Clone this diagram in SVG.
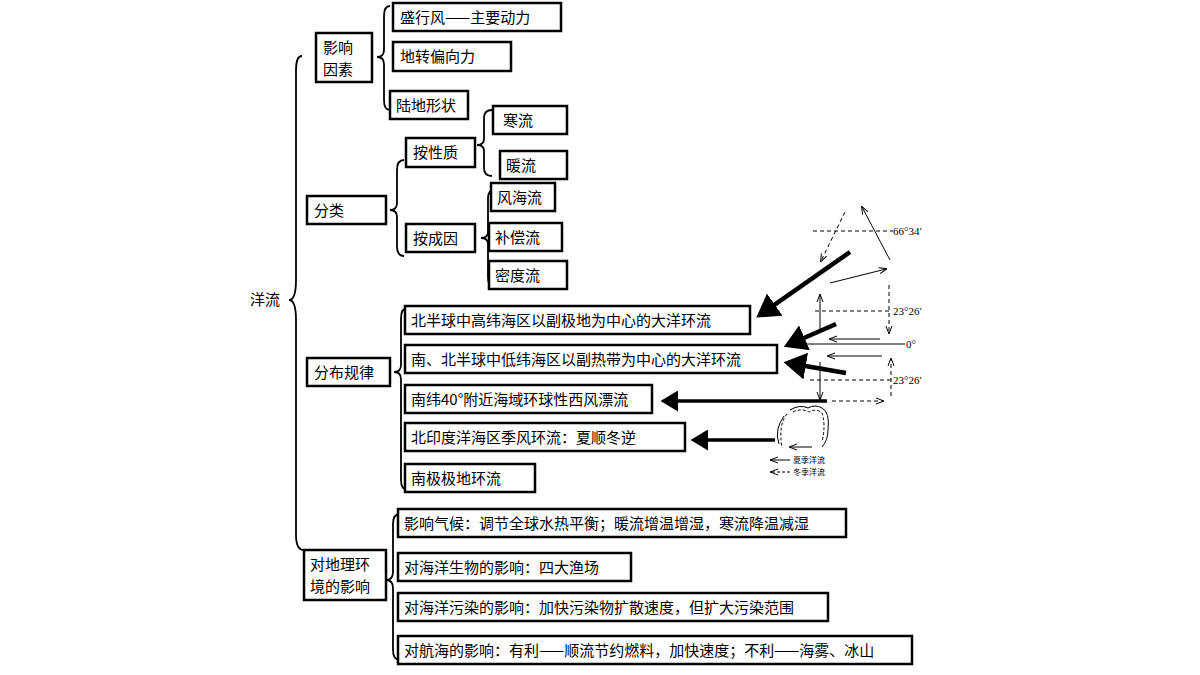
<svg xmlns="http://www.w3.org/2000/svg" width="1200" height="675" viewBox="0 0 1200 675">
<style>
text{font-family:"Noto Sans CJK SC","Liberation Serif",serif;font-size:15px;fill:#000}
.b rect{fill:#fff;stroke:#000;stroke-width:2.5}
.br{fill:none;stroke:#000;stroke-width:1.8}
.s{font-family:"Liberation Serif",serif;font-size:11px}
.t{font-size:8px}
</style>
<defs>
<marker id="big" markerWidth="6" markerHeight="6" refX="4" refY="3" orient="auto" markerUnits="strokeWidth"><path d="M0,0L5,3L0,6z" fill="#000"/></marker>
<marker id="sm" markerWidth="8" markerHeight="8" refX="7" refY="4" orient="auto" markerUnits="userSpaceOnUse"><path d="M0,1L8,4L0,7" fill="none" stroke="#000" stroke-width="1"/></marker>
</defs>
<rect width="1200" height="675" fill="#fff"/>
<text x="250" y="305">洋流</text>
<g id="braces">
<path class="br" d="M302,56 Q296,56 296,70 L296,280 Q296,300 289,300 Q296,300 296,320 L296,535 Q296,550 304,550"/>
<path class="br" d="M390,6 Q384,6 384,16 L384,50 Q384,57 377,57 Q384,57 384,64 L384,100 Q384,110 390,110"/>
<path class="br" d="M404,160 Q397,160 397,170 L397,203 Q397,210 390,210 Q397,210 397,217 L397,246 Q397,256 404,256"/>
<path class="br" d="M492,110 Q484,110 484,118 L484,139 Q484,145 477,145 Q484,145 484,151 L484,168 Q484,176 492,176"/>
<path class="br" d="M495,190 Q488,190 488,198 L488,232 Q488,238 481,238 Q488,238 488,244 L488,278 Q488,286 495,286"/>
<path class="br" d="M408,308 Q401,308 401,318 L401,365 Q401,372 394,372 Q401,372 401,379 L401,480 Q401,490 408,490"/>
<path class="br" d="M400,514 Q393,514 393,524 L393,572 Q393,580 386,580 Q393,580 393,588 L393,650 Q393,660 400,660"/>
</g>
<g class="b">
<g id="n1"><rect x="316" y="33" width="56" height="49"/><text x="323" y="53">影响</text><text x="323" y="75">因素</text></g>
<g id="n2"><rect x="393" y="3" width="168" height="28"/><text x="400" y="23">盛行风——主要动力</text></g>
<g id="n3"><rect x="393" y="42" width="118" height="29"/><text x="400" y="62">地转偏向力</text></g>
<g id="n4"><rect x="390" y="91" width="78" height="28"/><text x="396" y="111">陆地形状</text></g>
<g id="n5"><rect x="406" y="138" width="69" height="29"/><text x="413" y="158">按性质</text></g>
<g id="n6"><rect x="493" y="106" width="74" height="28"/><text x="503" y="126">寒流</text></g>
<g id="n7"><rect x="500" y="151" width="67" height="28"/><text x="506" y="171">暖流</text></g>
<g id="n8"><rect x="307" y="196" width="79" height="28"/><text x="314" y="216">分类</text></g>
<g id="n9"><rect x="406" y="224" width="69" height="28"/><text x="413" y="244">按成因</text></g>
<g id="n10"><rect x="491" y="183" width="64" height="28"/><text x="497" y="203">风海流</text></g>
<g id="n11"><rect x="489" y="223" width="73" height="28"/><text x="495" y="243">补偿流</text></g>
<g id="n12"><rect x="489" y="261" width="78" height="28"/><text x="495" y="281">密度流</text></g>
<g id="n13"><rect x="307" y="358" width="83" height="28"/><text x="314" y="378">分布规律</text></g>
<g id="n14"><rect x="405" y="306" width="345" height="28"/><text x="411" y="326">北半球中高纬海区以副极地为中心的大洋环流</text></g>
<g id="n15"><rect x="405" y="345" width="372" height="28"/><text x="411" y="365">南、北半球中低纬海区以副热带为中心的大洋环流</text></g>
<g id="n16"><rect x="405" y="385" width="247" height="28"/><text x="411" y="405">南纬40°附近海域环球性西风漂流</text></g>
<g id="n17"><rect x="405" y="423" width="280" height="28"/><text x="411" y="443">北印度洋海区季风环流：夏顺冬逆</text></g>
<g id="n18"><rect x="405" y="464" width="130" height="28"/><text x="411" y="484">南极极地环流</text></g>
<g id="n19"><rect x="304" y="550" width="82" height="50"/><text x="310" y="570">对地理环</text><text x="310" y="592">境的影响</text></g>
<g id="n20"><rect x="398" y="509" width="448" height="28"/><text x="404" y="529">影响气候：调节全球水热平衡；暖流增温增湿，寒流降温减湿</text></g>
<g id="n21"><rect x="398" y="553" width="233" height="28"/><text x="404" y="573">对海洋生物的影响：四大渔场</text></g>
<g id="n22"><rect x="398" y="593" width="430" height="28"/><text x="404" y="613">对海洋污染的影响：加快污染物扩散速度，但扩大污染范围</text></g>
<g id="n23"><rect x="398" y="636" width="514" height="28"/><text x="404" y="656">对航海的影响：有利——顺流节约燃料，加快速度；不利——海雾、冰山</text></g>
</g>
<g id="connectors" stroke="#000" fill="none">
<line x1="850" y1="252" x2="760" y2="315" stroke-width="4.5" marker-end="url(#big)"/>
<line x1="836" y1="324" x2="788" y2="345" stroke-width="4.5" marker-end="url(#big)"/>
<line x1="846" y1="373" x2="788" y2="363" stroke-width="4.5" marker-end="url(#big)"/>
<line x1="827" y1="401" x2="664" y2="401" stroke-width="3.5" marker-end="url(#big)"/>
<line x1="775" y1="440" x2="694" y2="440" stroke-width="3.5" marker-end="url(#big)"/>
</g>
<g id="inset" stroke="#000" fill="none" stroke-width="1">
<line x1="813" y1="231" x2="893" y2="231" stroke-dasharray="4,3"/>
<line x1="845" y1="212" x2="821" y2="261" stroke-dasharray="4,3" marker-end="url(#sm)"/>
<line x1="890" y1="260" x2="862" y2="207" marker-end="url(#sm)"/>
<line x1="830" y1="283" x2="886" y2="269" marker-end="url(#sm)"/>
<line x1="815" y1="311" x2="890" y2="311" stroke-dasharray="4,3"/>
<line x1="820" y1="331" x2="820" y2="295" marker-end="url(#sm)"/>
<line x1="889" y1="285" x2="889" y2="333" stroke-dasharray="4,3" marker-end="url(#sm)"/>
<line x1="880" y1="339" x2="830" y2="339" marker-end="url(#sm)"/>
<line x1="806" y1="344" x2="905" y2="344"/>
<line x1="882" y1="356" x2="828" y2="356" marker-end="url(#sm)"/>
<line x1="891" y1="396" x2="891" y2="359" stroke-dasharray="4,3" marker-end="url(#sm)"/>
<line x1="810" y1="380" x2="893" y2="380" stroke-dasharray="4,3"/>
<line x1="820" y1="362" x2="820" y2="399" marker-end="url(#sm)"/>
<line x1="832" y1="401" x2="883" y2="401" stroke-dasharray="4,3" marker-end="url(#sm)"/>
<path d="M790,410 Q800,404 808,408 Q815,404 822,408 Q830,412 828,430 Q828,440 822,447"/>
<path d="M793,412 Q801,408 809,412 Q816,408 822,413 Q826,425 822,442" stroke-dasharray="3,2"/>
<path d="M787,414 Q778,425 782,448" stroke-dasharray="3,2"/>
<path d="M784,416 Q774,430 779,444"/>
<line x1="812" y1="447" x2="790" y2="447" marker-end="url(#sm)"/>
<line x1="790" y1="460" x2="771" y2="460" marker-end="url(#sm)"/>
<line x1="790" y1="472" x2="771" y2="472" stroke-dasharray="3,2" marker-end="url(#sm)"/>
</g>
<text class="s" x="893" y="235">66°34′</text>
<text class="s" x="893" y="315">23°26′</text>
<text class="s" x="906" y="348">0°</text>
<text class="s" x="893" y="384">23°26′</text>
<text class="t" x="793" y="463">夏季洋流</text>
<text class="t" x="793" y="475">冬季洋流</text>
</svg>
